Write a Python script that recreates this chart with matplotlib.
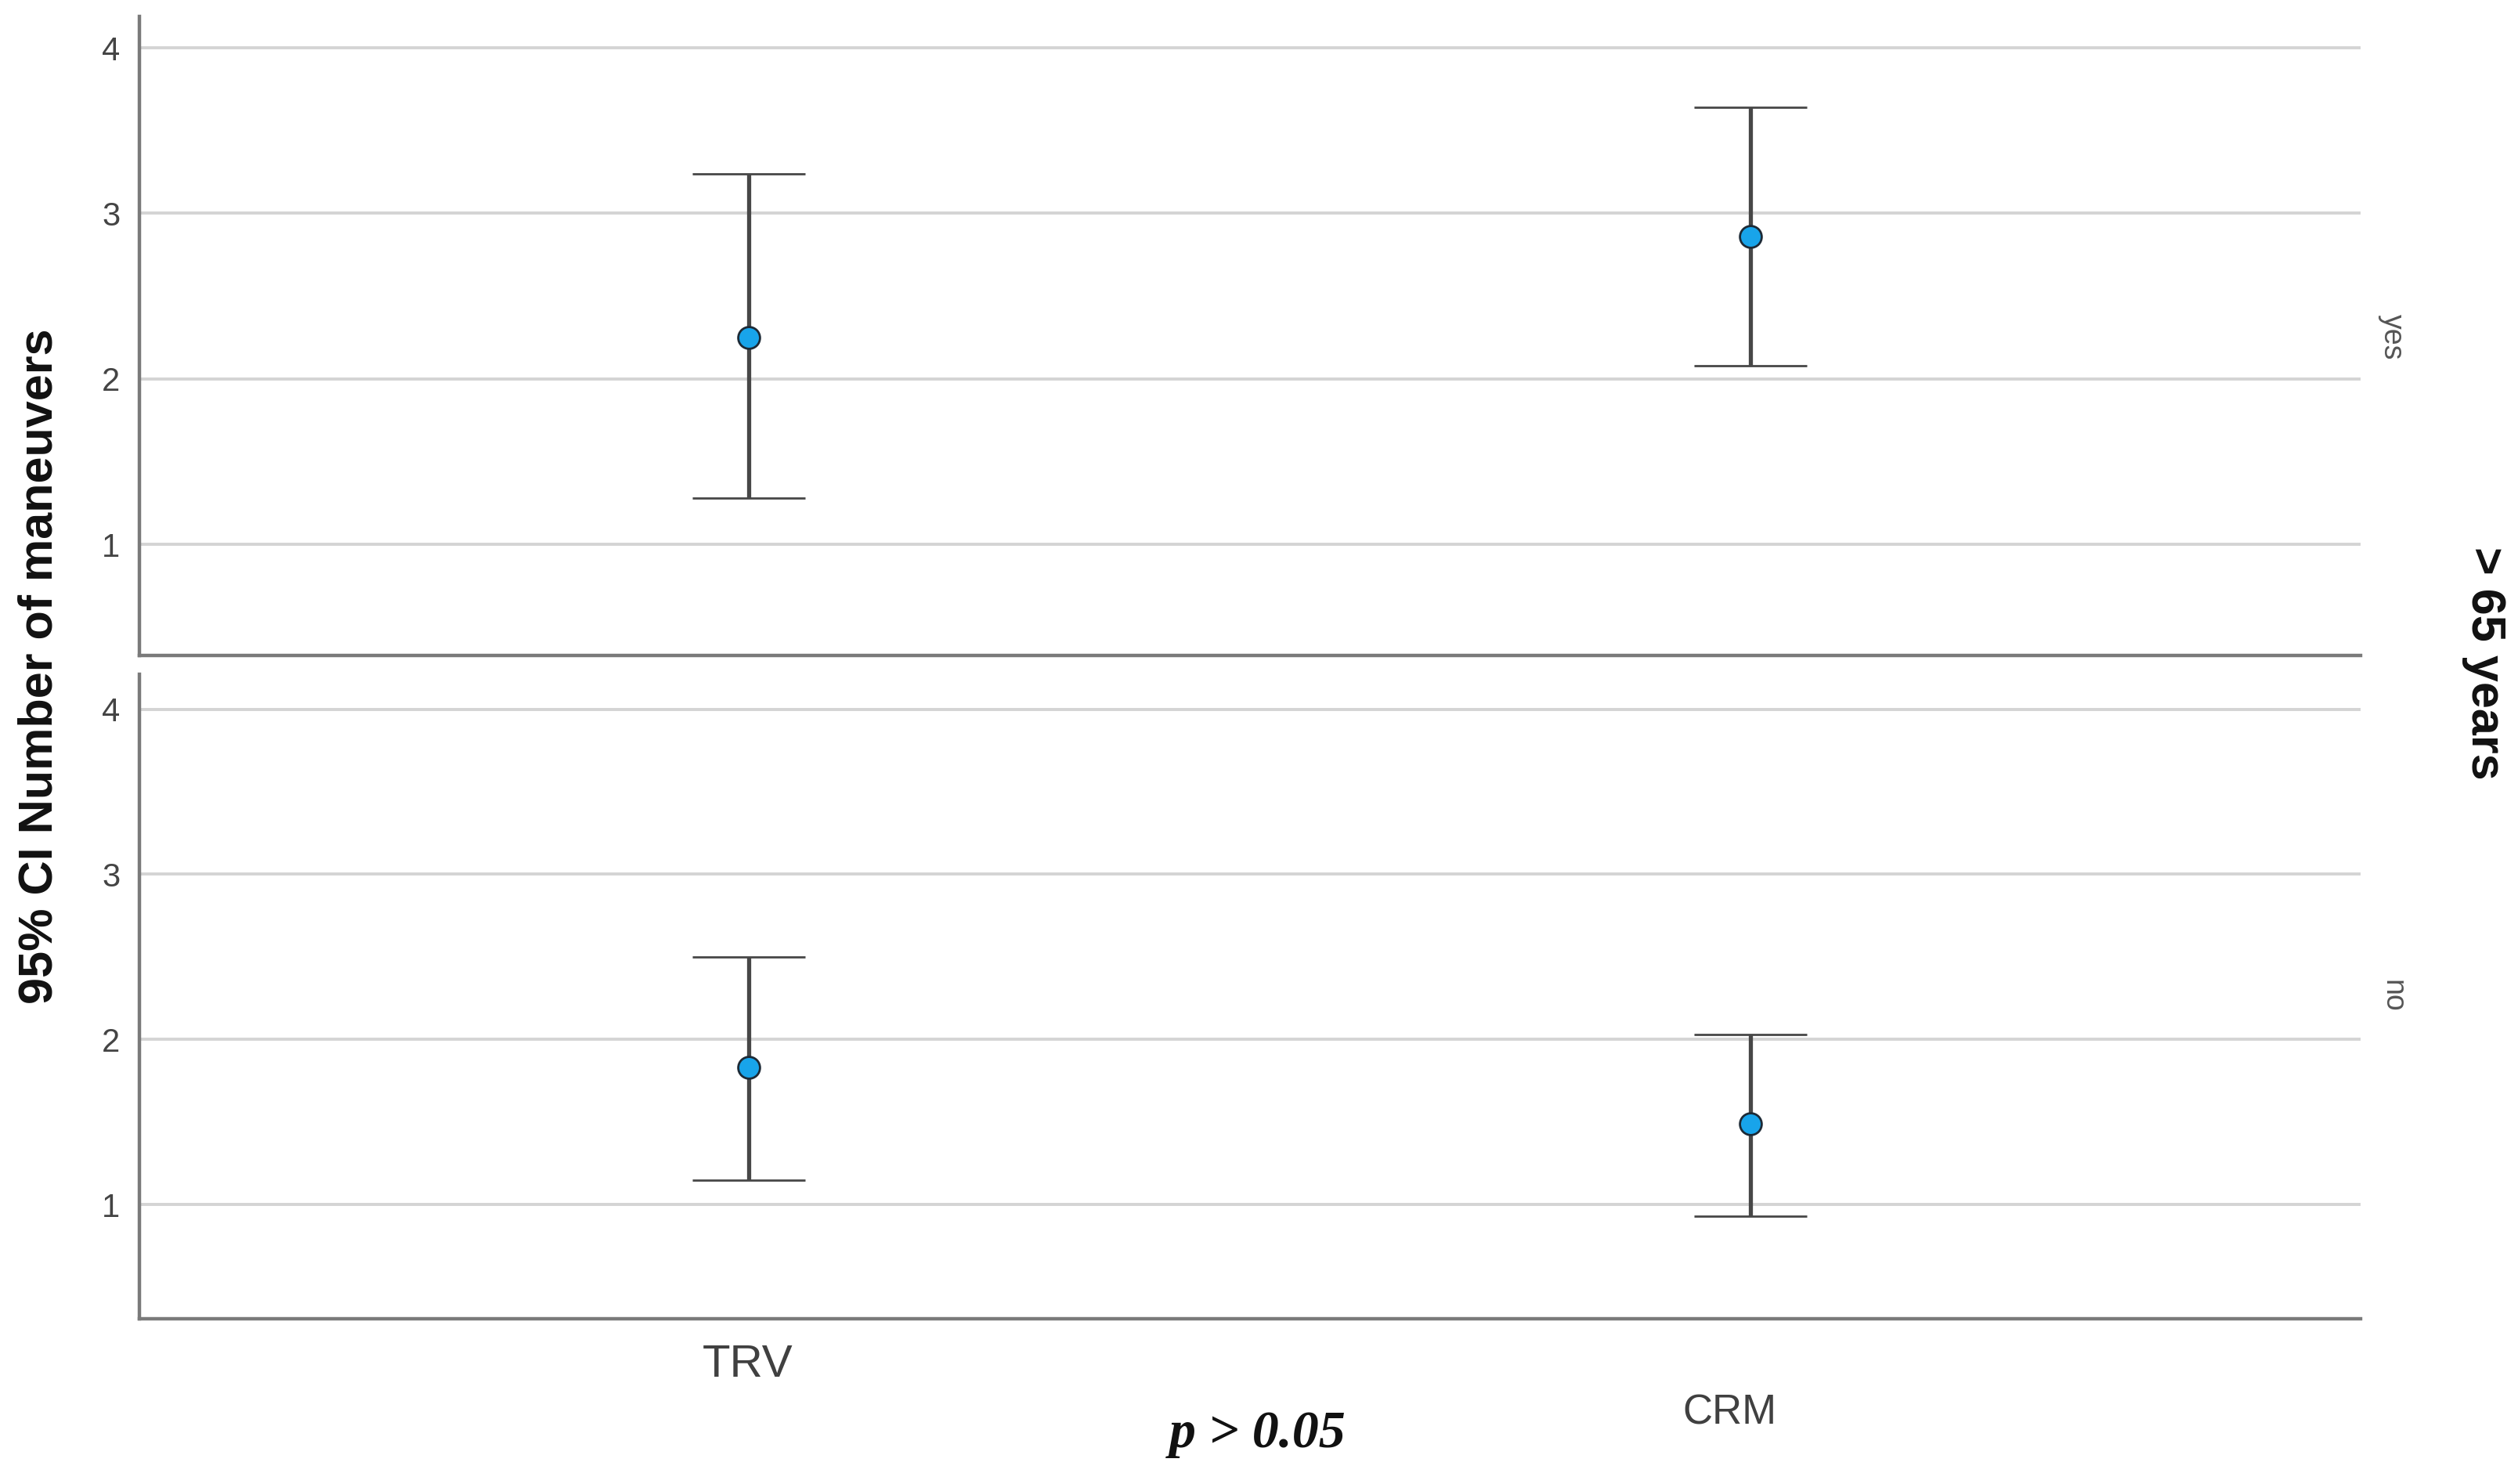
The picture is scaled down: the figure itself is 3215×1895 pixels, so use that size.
import matplotlib
matplotlib.use("Agg")
import matplotlib.pyplot as plt

plt.rcParams['font.family'] = ['Liberation Sans', 'DejaVu Sans']

groups = ["TRV", "CRM"]
panels = ["yes", "no"]
means = {"yes": [2.25, 2.86], "no": [1.83, 1.49]}
lower = {"yes": [1.28, 2.08], "no": [1.15, 0.93]}
upper = {"yes": [3.24, 3.64], "no": [2.50, 2.03]}
yticks = [1, 2, 3, 4]

fig = plt.figure(figsize=(32.15, 18.95), dpi=100)
fig.patch.set_facecolor("white")

rects = {"yes": [0.0555, 0.5584, 0.882, 0.4306],
         "no": [0.0555, 0.1115, 0.882, 0.434]}
ylims = {"yes": (0.33, 4.19), "no": (0.31, 4.21)}

xpos = list(range(len(groups)))
for p in panels:
    ax = fig.add_axes(rects[p])
    ax.set_xlim(-0.608, 1.609)
    ax.set_ylim(*ylims[p])
    ax.set_yticks(yticks)
    ax.set_yticklabels([str(t) for t in yticks], fontsize=30, color="#444444")
    ax.set_xticks([])
    ax.tick_params(axis='y', length=0, pad=18)
    ax.grid(axis='y', color="#d4d4d4", linewidth=2.8, zorder=0)
    ax.set_axisbelow(True)
    for s in ["top", "right"]:
        ax.spines[s].set_visible(False)
    for s in ["left", "bottom"]:
        ax.spines[s].set_color("#7a7a7a")
        ax.spines[s].set_linewidth(3.2)
    m = means[p]
    lo = [m[i] - lower[p][i] for i in range(len(m))]
    hi = [upper[p][i] - m[i] for i in range(len(m))]
    ax.errorbar(xpos, m, yerr=[lo, hi], fmt='o', color="#474747",
                ecolor="#474747", elinewidth=3.8, capsize=52, capthick=4,
                markersize=20, markerfacecolor="#18a4ea",
                markeredgecolor="#1d2a36", markeredgewidth=2, zorder=3)

fig.text(0.297, 0.080, "TRV", fontsize=42, color="#404040", ha='center', va='center')
fig.text(0.687, 0.0476, "CRM", fontsize=38, color="#404040", ha='center', va='center')
fig.text(0.4994, 0.0335, "p > 0.05", fontsize=49, fontweight='bold', fontstyle='italic',
         family=['Liberation Serif', 'DejaVu Serif'], ha='center', va='center', color="#111111")
fig.text(0.950, 0.773, "yes", fontsize=27, color="#555555", rotation=-90, ha='center', va='center')
fig.text(0.950, 0.329, "no", fontsize=27, color="#555555", rotation=-90, ha='center', va='center')
fig.text(0.9866, 0.553, "> 65 years", fontsize=44, fontweight='bold', color="#111111",
         rotation=-90, ha='center', va='center')
fig.text(0.016, 0.551, "95% CI Number of maneuvers", fontsize=44, fontweight='bold',
         color="#111111", rotation=90, ha='center', va='center')

fig.savefig("out.png", dpi=100, facecolor="white")
